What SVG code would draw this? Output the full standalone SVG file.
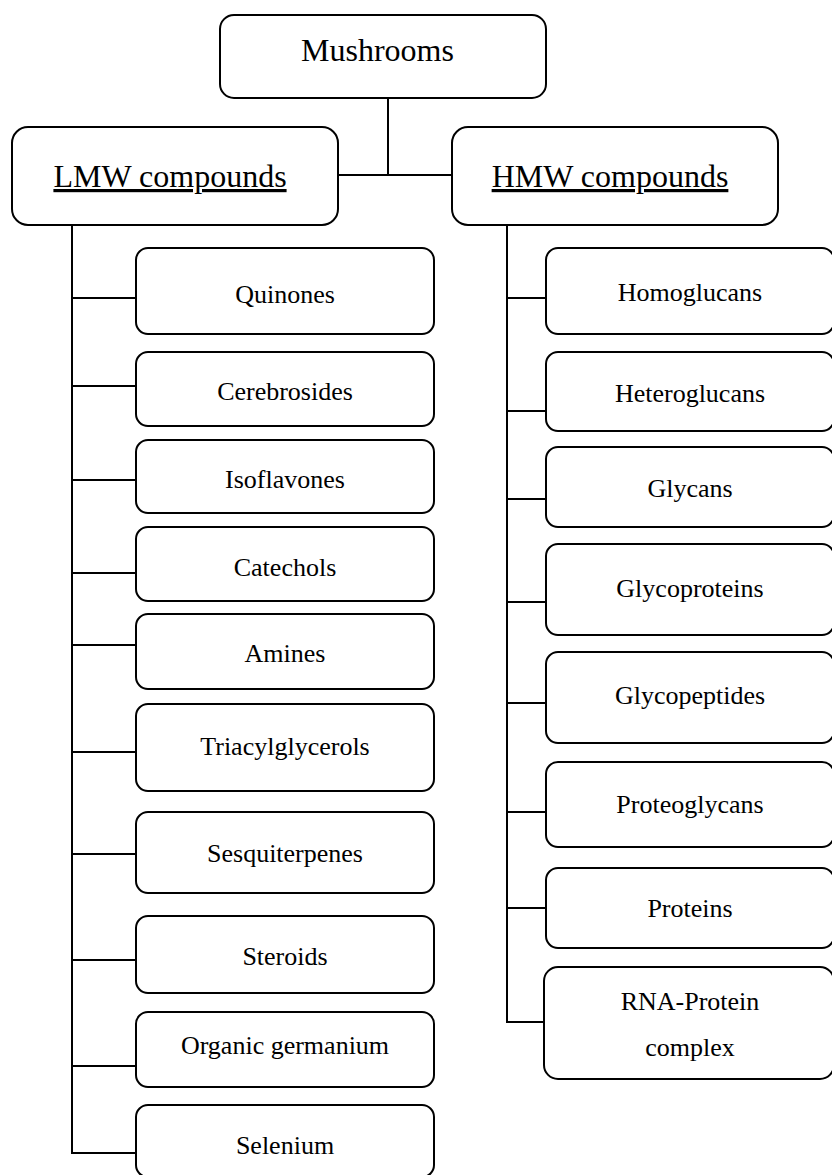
<svg xmlns="http://www.w3.org/2000/svg" width="832" height="1175" viewBox="0 0 832 1175">
<style>
.box{fill:#fff;stroke:#000;stroke-width:2}
.t{font-family:"Liberation Serif","Times New Roman",serif;font-size:26px;fill:#000;text-anchor:middle}
.h{font-family:"Liberation Serif","Times New Roman",serif;font-size:32px;fill:#000;text-anchor:middle}
.u{text-decoration:underline}
.c{fill:none;stroke:#000;stroke-width:2}
</style>
<rect width="832" height="1175" fill="#fff"/>
<g id="connectors">
<path class="c" d="M388,98 V175 M338,175 H453"/>
<path class="c" d="M72,225 V1153 H136 M72,298 H136 M72,386 H136 M72,480 H136 M72,573 H136 M72,645 H136 M72,752 H136 M72,854 H136 M72,960 H136 M72,1066 H136"/>
<path class="c" d="M507,225 V1022 H546 M507,298 H546 M507,411 H546 M507,499 H546 M507,602 H546 M507,703 H546 M507,812 H546 M507,908 H546"/>
</g>
<g id="mushrooms"><rect class="box" x="220" y="15" width="326" height="83" rx="14"/><text class="h" x="377.5" y="61">Mushrooms</text></g>
<g id="lmw"><rect class="box" x="12" y="127" width="326" height="98" rx="16"/><text class="h u" x="170" y="187">LMW compounds</text></g>
<g id="hmw"><rect class="box" x="452" y="127" width="326" height="98" rx="16"/><text class="h u" x="610" y="187">HMW compounds</text></g>
<g id="quinones"><rect class="box" x="136" y="248" width="298" height="86" rx="12"/><text class="t" x="285" y="303">Quinones</text></g>
<g id="cerebrosides"><rect class="box" x="136" y="352" width="298" height="74" rx="12"/><text class="t" x="285" y="400">Cerebrosides</text></g>
<g id="isoflavones"><rect class="box" x="136" y="440" width="298" height="73" rx="12"/><text class="t" x="285" y="488">Isoflavones</text></g>
<g id="catechols"><rect class="box" x="136" y="527" width="298" height="74" rx="12"/><text class="t" x="285" y="576">Catechols</text></g>
<g id="amines"><rect class="box" x="136" y="614" width="298" height="75" rx="12"/><text class="t" x="285" y="662">Amines</text></g>
<g id="triacylglycerols"><rect class="box" x="136" y="704" width="298" height="87" rx="12"/><text class="t" x="285" y="755">Triacylglycerols</text></g>
<g id="sesquiterpenes"><rect class="box" x="136" y="812" width="298" height="81" rx="12"/><text class="t" x="285" y="862">Sesquiterpenes</text></g>
<g id="steroids"><rect class="box" x="136" y="916" width="298" height="77" rx="12"/><text class="t" x="285" y="965">Steroids</text></g>
<g id="organic-germanium"><rect class="box" x="136" y="1012" width="298" height="75" rx="12"/><text class="t" x="285" y="1054">Organic germanium</text></g>
<g id="selenium"><rect class="box" x="136" y="1105" width="298" height="72" rx="12"/><text class="t" x="285" y="1154">Selenium</text></g>
<g id="homoglucans"><rect class="box" x="546" y="248" width="288" height="86" rx="12"/><text class="t" x="690" y="301">Homoglucans</text></g>
<g id="heteroglucans"><rect class="box" x="546" y="352" width="288" height="79" rx="12"/><text class="t" x="690" y="402">Heteroglucans</text></g>
<g id="glycans"><rect class="box" x="546" y="447" width="288" height="80" rx="12"/><text class="t" x="690" y="497">Glycans</text></g>
<g id="glycoproteins"><rect class="box" x="546" y="544" width="288" height="91" rx="12"/><text class="t" x="690" y="597">Glycoproteins</text></g>
<g id="glycopeptides"><rect class="box" x="546" y="652" width="288" height="91" rx="12"/><text class="t" x="690" y="704">Glycopeptides</text></g>
<g id="proteoglycans"><rect class="box" x="546" y="762" width="288" height="85" rx="12"/><text class="t" x="690" y="813">Proteoglycans</text></g>
<g id="proteins"><rect class="box" x="546" y="868" width="288" height="80" rx="12"/><text class="t" x="690" y="917">Proteins</text></g>
<g id="rna-protein"><rect class="box" x="544" y="967" width="290" height="112" rx="14"/><text class="t" x="690" y="1010">RNA-Protein</text><text class="t" x="690" y="1056">complex</text></g>
</svg>
